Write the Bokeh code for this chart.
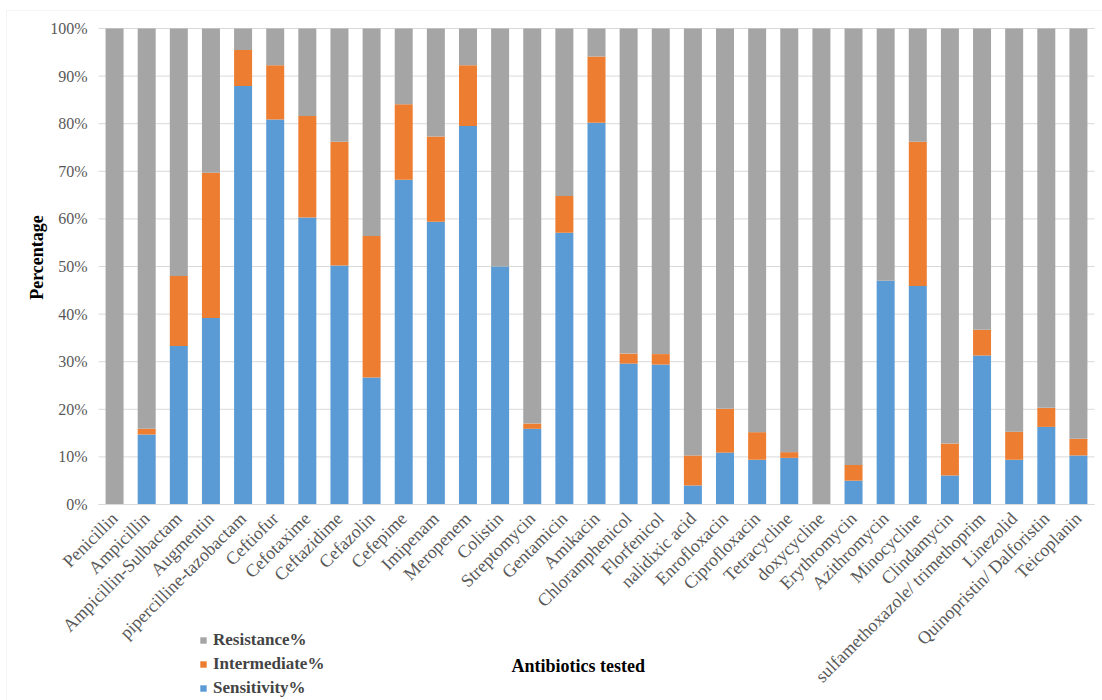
from math import pi
from bokeh.plotting import figure
from bokeh.models import (Range1d, Legend, LegendItem, NumeralTickFormatter, FixedTicker,
                          ColumnDataSource, LinearAxis, Label, BoxAnnotation)
from bokeh.embed import file_html
from bokeh.resources import INLINE

antibiotics = ["Penicillin", "Ampicillin", "Ampicillin-Sulbactam", "Augmentin",
               "pipercilline-tazobactam", "Ceftiofur", "Cefotaxime", "Ceftazidime",
               "Cefazolin", "Cefepime", "Imipenam", "Meropenem", "Colistin",
               "Streptomycin", "Gentamicin", "Amikacin", "Chloramphenicol",
               "Florfenicol", "nalidixic acid", "Enrofloxacin", "Ciprofloxacin",
               "Tetracycline", "doxycycline", "Erythromycin", "Azithromycin",
               "Minocycline", "Clindamycin", "sulfamethoxazole/ trimethoprim",
               "Linezolid", "Quinopristin/ Dalforistin", "Teicoplanin"]
sensitivity = [0, 14.7, 33.3, 39.2, 87.9, 80.9, 60.3, 50.2, 26.7, 68.2, 59.4, 79.5, 50.0,
               15.9, 57.1, 80.2, 29.6, 29.4, 4.0, 10.9, 9.4, 9.8, 0, 5.0, 47.0, 45.9,
               6.1, 31.3, 9.4, 16.3, 10.3]
intermediate = [0, 1.2, 14.7, 30.5, 7.6, 11.4, 21.3, 26.0, 29.7, 15.9, 17.9, 12.8, 0,
                1.1, 7.7, 13.9, 2.1, 2.2, 6.3, 9.2, 5.8, 1.2, 0, 3.3, 0, 30.3,
                6.7, 5.4, 5.9, 4.0, 3.5]
resistance = [round(100 - s - i, 1) for s, i in zip(sensitivity, intermediate)]
y_ticks = [i / 10 for i in range(11)]

n = len(antibiotics)
idx = list(range(n))
src = ColumnDataSource(dict(
    x=idx, name=antibiotics,
    S=[v / 100 for v in sensitivity],
    I=[v / 100 for v in intermediate],
    R=[v / 100 for v in resistance],
))

serif = "Liberation Serif"
W, H = 1102, 700
# layout of the plotting area inside the canvas (pixels)
left_px, right_px, top_px, zero_px = 98, 1094, 28, 504
ux = (right_px - left_px) / n          # pixels per category
uy = (zero_px - top_px)                # pixels per 100 %
x_range = Range1d(-0.5 - left_px / ux, n - 0.5 + (W - right_px) / ux)
y_range = Range1d(-(H - zero_px) / uy, 1 + top_px / uy)

p = figure(x_range=x_range, y_range=y_range, width=W, height=H,
           output_backend="svg", toolbar_location=None,
           min_border=0, x_axis_type=None, y_axis_type=None)
p.outline_line_color = None
p.grid.visible = False

# horizontal gridlines limited to the category band
p.segment(x0=-0.5, x1=n - 0.5, y0=y_ticks, y1=y_ticks, line_color="#D9D9D9", line_width=1)

rs = p.vbar_stack(["S", "I", "R"], x="x", width=0.56, source=src,
                  color=["#5B9BD5", "#ED7D31", "#A5A5A5"], line_width=0)

# x axis at y = 0
xaxis = LinearAxis(fixed_location=0, bounds=(-0.5, n - 0.5))
xaxis.ticker = FixedTicker(ticks=idx)
xaxis.major_label_overrides = {i: a for i, a in zip(idx, antibiotics)}
xaxis.axis_line_color = "#D9D9D9"
xaxis.major_tick_line_color = None
xaxis.minor_tick_line_color = None
xaxis.major_label_orientation = pi / 4
xaxis.major_label_text_font = serif
xaxis.major_label_text_font_size = "18px"
xaxis.major_label_text_color = "#595959"
p.add_layout(xaxis, "below")

# y axis at left edge of first category
yaxis = LinearAxis(fixed_location=-0.5, bounds=(0, 1))
yaxis.ticker = FixedTicker(ticks=y_ticks)
yaxis.formatter = NumeralTickFormatter(format="0%")
yaxis.axis_line_color = None
yaxis.major_tick_line_color = None
yaxis.minor_tick_line_color = None
yaxis.major_label_text_font = serif
yaxis.major_label_text_font_size = "16px"
yaxis.major_label_text_color = "#595959"
p.add_layout(yaxis, "left")

p.add_layout(Label(x=-0.5, y=0.5, x_offset=-62, y_offset=9, text="Percentage", angle=pi / 2,
                   text_align="center", text_baseline="middle", text_font=serif,
                   text_font_style="bold", text_font_size="18px", text_color="#000000"))
p.add_layout(Label(x=(n - 1) / 2, y=0, x_offset=-16, y_offset=-161, text="Antibiotics  tested",
                   text_align="center", text_baseline="middle", text_font=serif,
                   text_font_style="bold", text_font_size="18px", text_color="#000000"))

legend = Legend(items=[LegendItem(label="Resistance%", renderers=[rs[2]]),
                       LegendItem(label="Intermediate%", renderers=[rs[1]]),
                       LegendItem(label="Sensitivity%", renderers=[rs[0]])],
                location=(199, 2), orientation="vertical",
                label_text_font=serif, label_text_font_style="bold",
                label_text_font_size="17px", glyph_width=8, glyph_height=8,
                label_height=20, spacing=4, padding=0, margin=0, border_line_color=None,
                background_fill_alpha=0, label_standoff=6)
p.add_layout(legend, "center")

p.add_layout(BoxAnnotation(left=6, right=1130, top=10, bottom=730,
                           left_units="canvas", right_units="canvas",
                           top_units="canvas", bottom_units="canvas",
                           fill_alpha=0, line_color="#D9D9D9", line_width=1))

open("out.html", "w").write(file_html(p, INLINE))
